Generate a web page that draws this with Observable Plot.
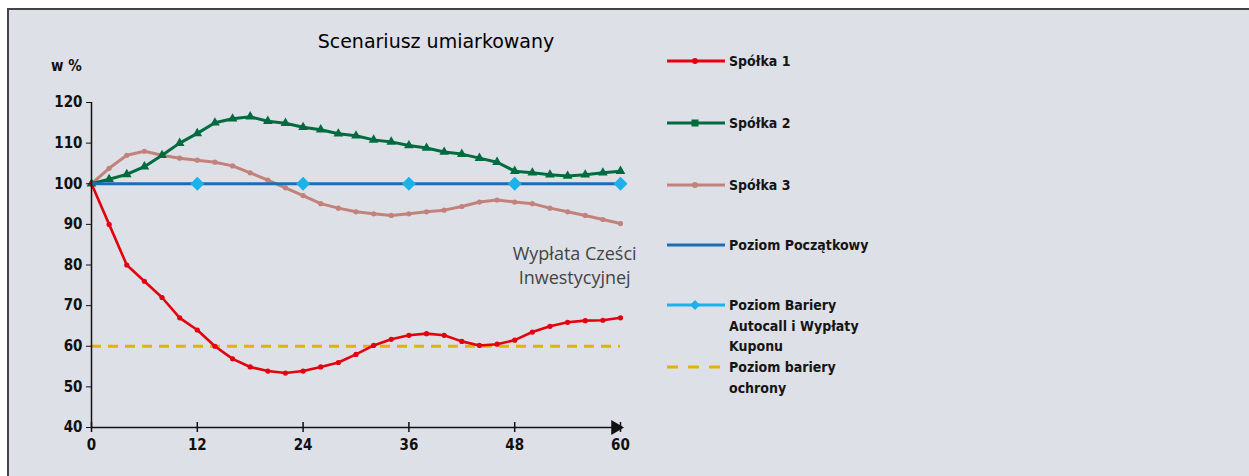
<!DOCTYPE html>
<html><head><meta charset="utf-8">
<script src="https://cdn.jsdelivr.net/npm/d3@7"></script>
<script src="https://cdn.jsdelivr.net/npm/@observablehq/plot@0.6"></script>
<style>
body{margin:0;background:#fff;}
#wrap{position:relative;width:1249px;height:476px;overflow:hidden;font-family:"DejaVu Sans Condensed","DejaVu Sans",sans-serif;color:#111;}
#panel{position:absolute;left:7px;top:8px;right:-4px;bottom:-4px;background:#DEE0E7;border-left:2px solid #444;border-top:2px solid #444;}
#chart{position:absolute;left:0;top:0;}
#title{position:absolute;left:236px;width:400px;top:30px;text-align:center;font-size:19px;font-family:"DejaVu Sans",sans-serif;color:#000;}
#unit{position:absolute;left:51px;top:57px;font-size:15px;font-weight:bold;}
.leg{position:absolute;left:667px;}
.leg svg{position:absolute;left:0;}
.leg .lab{position:absolute;left:62px;font-size:14px;font-weight:bold;line-height:20.5px;white-space:nowrap;color:#151515;}
</style></head>
<body>
<div id="wrap">
  <div id="panel"></div>
  <div id="chart"></div>
  <div id="title">Scenariusz umiarkowany</div>
  <div id="unit">w %</div>
  <div id="legend"></div>
</div>
<script>
const months = [0,2,4,6,8,10,12,14,16,18,20,22,24,26,28,30,32,34,36,38,40,42,44,46,48,50,52,54,56,58,60];
const spolka1 = [100,90,80,76,72,67,64,60,56.9,54.9,53.9,53.4,53.9,54.9,56,58,60.2,61.7,62.7,63.1,62.7,61.2,60.2,60.5,61.5,63.5,64.9,65.9,66.3,66.4,67];
const spolka2 = [100,101.1,102.3,104.2,107,110,112.4,115,116,116.5,115.4,114.9,113.9,113.3,112.3,111.8,110.8,110.3,109.4,108.8,107.8,107.3,106.3,105.3,103.1,102.7,102.2,101.9,102.2,102.7,103.1];
const spolka3 = [100,103.8,107,108,107,106.3,105.8,105.3,104.4,102.7,100.9,99,97.1,95.1,94,93.1,92.6,92.2,92.6,93.1,93.5,94.4,95.5,96,95.5,95.1,94,93.1,92.2,91.2,90.2];
const levelRange = [0, 60];
const initialLevel = 100;
const barrierMonths = [12,24,36,48,60];
const barrierLevel = 100;
const protectionLevel = 60;
const xTicks = [0,12,24,36,48,60];
const yTicks = [40,50,60,70,80,90,100,110,120];
const annotations = [{x: 54.8, y: 80.1, text: "Wypłata Cześci\nInwestycyjnej"}];
const seriesNames = ["Spółka 1","Spółka 2","Spółka 3","Poziom Początkowy","Poziom Bariery\nAutocall i Wypłaty\nKuponu","Poziom bariery\nochrony"];

const C = {s1:"#E3000F", s2:"#006B3F", s3:"#C2827C", init:"#1A6EB6", barrier:"#1BB2EA", prot:"#E0B400"};

const table = (vals) => months.map((m,i) => ({x: m, y: vals[i]}));
const s1 = table(spolka1), s2 = table(spolka2), s3 = table(spolka3);
const barrier = barrierMonths.map(m => ({x: m, y: barrierLevel}));

const chart = Plot.plot({
  width: 660, height: 476,
  marginLeft: 91, marginRight: 40, marginTop: 102, marginBottom: 49,
  x: {domain: levelRange},
  y: {domain: [yTicks[0], yTicks[yTicks.length-1]]},
  style: {background: "transparent", fontFamily: "DejaVu Sans Condensed, DejaVu Sans, sans-serif", fontSize: "15px", color: "#111"},
  marks: [
    Plot.ruleY([protectionLevel], {x1: levelRange[0], x2: levelRange[1], stroke: C.prot, strokeWidth: 3, strokeDasharray: "10,7"}),
    Plot.line(s3, {x: "x", y: "y", stroke: C.s3, strokeWidth: 3}),
    Plot.dot(s3, {x: "x", y: "y", fill: C.s3, r: 2.6}),
    Plot.line(s2, {x: "x", y: "y", stroke: C.s2, strokeWidth: 3}),
    Plot.dot(s2, {x: "x", y: "y", fill: C.s2, symbol: "triangle", r: 3.6}),
    Plot.line(s1, {x: "x", y: "y", stroke: C.s1, strokeWidth: 2.6}),
    Plot.dot(s1, {x: "x", y: "y", fill: C.s1, r: 2.6}),
    Plot.ruleY([initialLevel], {x1: levelRange[0], x2: levelRange[1], stroke: C.init, strokeWidth: 3}),
    Plot.dot(barrier, {x: "x", y: "y", fill: C.barrier, symbol: "diamond2", r: 6.3}),
    Plot.text(annotations, {x: "x", y: "y", text: "text", fontFamily: "Open Sans, sans-serif", fontSize: 18, fill: "#444", lineHeight: 1.3}),
    Plot.ruleX([levelRange[0]], {stroke: "#111", strokeWidth: 1.5}),
    Plot.ruleY([yTicks[0]], {stroke: "#111", strokeWidth: 1.5}),
    Plot.ruleX(xTicks, {y1: yTicks[0], y2: yTicks[0], insetTop: -5, insetBottom: -5, stroke: "#111", strokeWidth: 1.5}),
    Plot.dot([{x: levelRange[1], y: yTicks[0]}], {x: "x", y: "y", symbol: "triangle", rotate: 90, r: 5.5, dx: -5, fill: "#111"}),
    Plot.axisY({ticks: yTicks, tickSize: 5, tickPadding: 4, label: null, fontSize: 15, fontWeight: "bold"}),
    Plot.axisX({ticks: xTicks, tickSize: 0, tickPadding: 12, label: null, fontSize: 15, fontWeight: "bold"})
  ]
});
document.getElementById("chart").append(chart);

// legend
const legendItems = [
  {name: seriesNames[0], color: C.s1, marker: "circle", top: 61},
  {name: seriesNames[1], color: C.s2, marker: "square", top: 123},
  {name: seriesNames[2], color: C.s3, marker: "circle", top: 185},
  {name: seriesNames[3], color: C.init, marker: null, top: 245},
  {name: seriesNames[4], color: C.barrier, marker: "diamond", top: 305},
  {name: seriesNames[5], color: C.prot, marker: null, dash: true, top: 367}
];
const legend = document.getElementById("legend");
for (const it of legendItems) {
  const d = document.createElement("div");
  d.className = "leg";
  d.style.top = it.top + "px";
  let mk = "";
  if (it.marker === "circle") mk = `<circle cx="28" cy="6" r="3" fill="${it.color}"/>`;
  if (it.marker === "square") mk = `<rect x="24.5" y="2.5" width="7" height="7" fill="${it.color}"/>`;
  if (it.marker === "diamond") mk = `<path d="M28,1L33,6L28,11L23,6Z" fill="${it.color}"/>`;
  const line = it.dash
    ? `<line x1="0" x2="58" y1="6" y2="6" stroke="${it.color}" stroke-width="3" stroke-dasharray="11,10"/>`
    : `<line x1="0" x2="58" y1="6" y2="6" stroke="${it.color}" stroke-width="3"/>`;
  d.innerHTML = `<svg width="60" height="12" style="top:-6px">${line}${mk}</svg><div class="lab" style="top:-10px">${it.name.replace(/\n/g,"<br>")}</div>`;
  legend.append(d);
}
</script>
</body></html>
